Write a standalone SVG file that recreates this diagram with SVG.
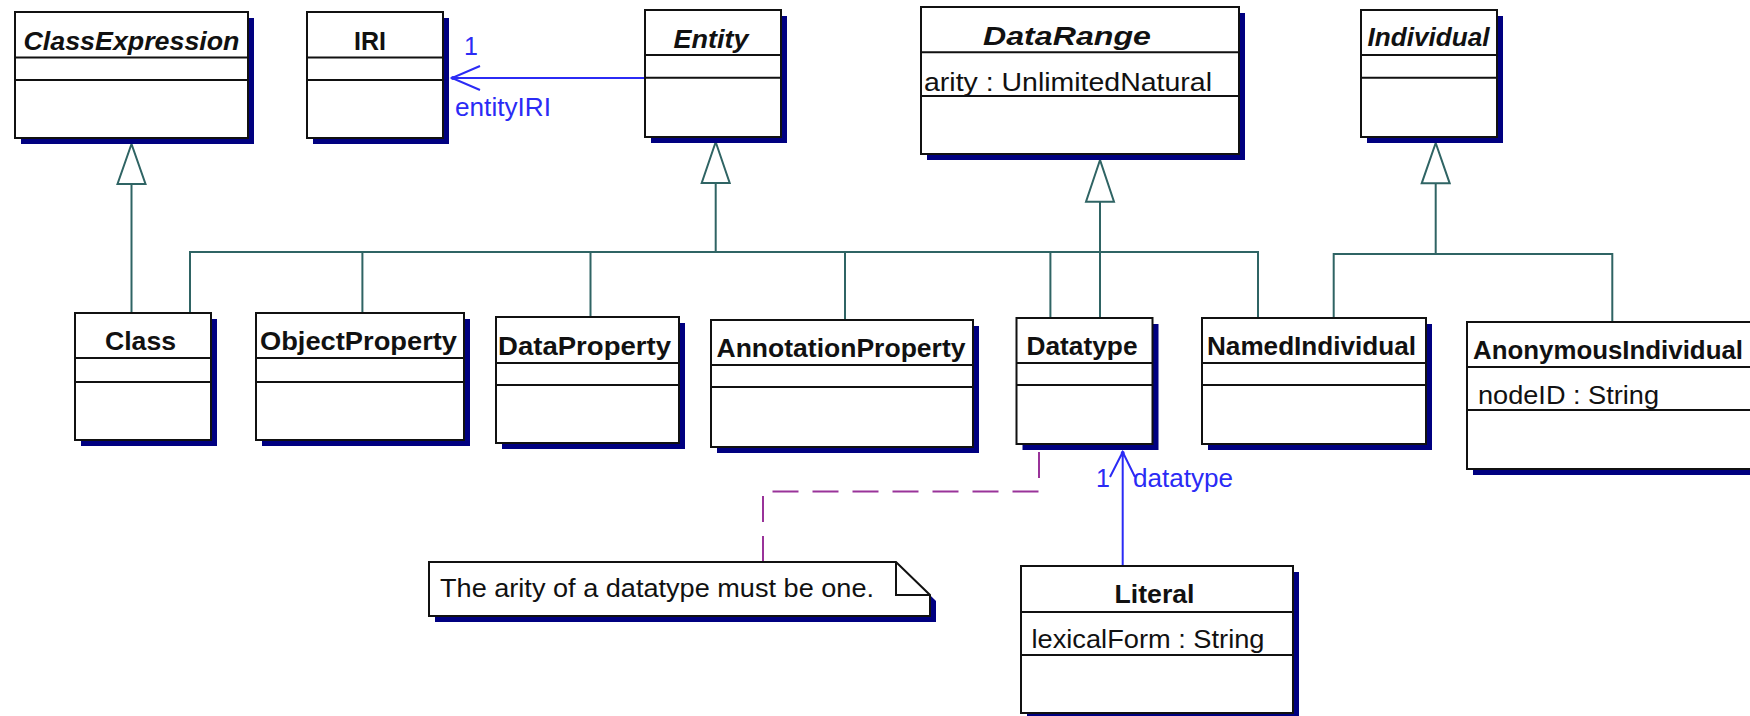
<svg xmlns="http://www.w3.org/2000/svg" width="1750" height="716" viewBox="0 0 1750 716">
<style>
.sh{fill:#000080;stroke:none}
.bx{fill:#fff;stroke:#111;stroke-width:2}
.ln{stroke:#111;stroke-width:2;fill:none}
.hd{font-family:"Liberation Sans",Arial,sans-serif;font-size:25px;font-weight:bold;fill:#111}
.ab{font-family:"Liberation Sans",Arial,sans-serif;font-size:25px;font-weight:bold;font-style:italic;fill:#111}
.at{font-family:"Liberation Sans",Arial,sans-serif;font-size:25px;fill:#111}
.lb{font-family:"Liberation Sans",Arial,sans-serif;font-size:25px;fill:#2b2bf5}
.gen{stroke:#2f6464;stroke-width:2;fill:none}
.tri{stroke:#2f6464;stroke-width:2;fill:#fff}
.asc{stroke:#2b2bf5;stroke-width:2;fill:none}
.dash{stroke:#993399;stroke-width:2;fill:none;stroke-dasharray:26 14}
</style>

<g id="connectors">
  <!-- ClassExpression generalization -->
  <line class="gen" x1="131.5" y1="184" x2="131.5" y2="313"/>
  <polygon class="tri" points="131.5,144 117.5,184 145.5,184"/>
  <!-- Entity generalization -->
  <path class="gen" d="M715.7,183 V252 M190,313 V252 H1258 V318 M362.4,252 V313 M590.5,252 V317 M845,252 V320 M1050.4,252 V318"/>
  <polygon class="tri" points="715.7,142 701.7,183 729.7,183"/>
  <!-- DataRange generalization -->
  <line class="gen" x1="1100" y1="201.7" x2="1100" y2="318"/>
  <polygon class="tri" points="1100,160 1086,201.7 1114,201.7"/>
  <!-- Individual generalization -->
  <path class="gen" d="M1435.7,183.3 V254 M1333.7,318 V254 H1612.3 V322"/>
  <polygon class="tri" points="1435.7,143 1421.7,183.3 1449.7,183.3"/>
  <!-- Entity -> IRI association -->
  <path class="asc" d="M645,78 H452 M480,66 L452,78 L480,90"/>
  <circle cx="453" cy="78" r="2" fill="#2b2bf5"/>
  <text class="lb" x="464" y="55">1</text>
  <text class="lb" x="455" y="116" textLength="96" lengthAdjust="spacingAndGlyphs">entityIRI</text>
  <!-- Literal -> Datatype association -->
  <path class="asc" d="M1122.7,566 V452 M1110,477 L1122.7,452 L1135,477"/>
  <circle cx="1122.7" cy="453" r="2" fill="#2b2bf5"/>
  <text class="lb" x="1096" y="487">1</text>
  <text class="lb" x="1133" y="487" textLength="100" lengthAdjust="spacingAndGlyphs">datatype</text>
  <!-- note anchor -->
  <path class="dash" d="M763,562 V491.5 H1039 V446"/>
</g>

<g id="ClassExpression">
  <rect class="sh" x="21" y="18" width="233" height="126"/>
  <rect class="bx" x="15" y="12" width="233" height="126"/>
  <path class="ln" d="M15,57.5 H248 M15,80 H248"/>
  <text class="ab" x="23.5" y="50" textLength="216" lengthAdjust="spacingAndGlyphs">ClassExpression</text>
</g>

<g id="IRI">
  <rect class="sh" x="313" y="18" width="136" height="126"/>
  <rect class="bx" x="307" y="12" width="136" height="126"/>
  <path class="ln" d="M307,57.5 H443 M307,80 H443"/>
  <text class="hd" x="370" y="50" text-anchor="middle">IRI</text>
</g>

<g id="Entity">
  <rect class="sh" x="651" y="16" width="136" height="127"/>
  <rect class="bx" x="645" y="10" width="136" height="127"/>
  <path class="ln" d="M645,55 H781 M645,77.7 H781"/>
  <text class="ab" x="673.5" y="47.5" textLength="75" lengthAdjust="spacingAndGlyphs">Entity</text>
</g>

<g id="DataRange">
  <rect class="sh" x="927" y="13" width="318" height="147"/>
  <rect class="bx" x="921" y="7" width="318" height="147"/>
  <path class="ln" d="M921,52.3 H1239 M921,96 H1239"/>
  <text class="ab" x="983" y="45" textLength="168" lengthAdjust="spacingAndGlyphs">DataRange</text>
  <text class="at" x="924" y="91" textLength="288" lengthAdjust="spacingAndGlyphs">arity : UnlimitedNatural</text>
</g>

<g id="Individual">
  <rect class="sh" x="1367" y="16" width="136" height="127"/>
  <rect class="bx" x="1361" y="10" width="136" height="127"/>
  <path class="ln" d="M1361,55 H1497 M1361,77.7 H1497"/>
  <text class="ab" x="1367.5" y="46" textLength="122" lengthAdjust="spacingAndGlyphs">Individual</text>
</g>

<g id="Class">
  <rect class="sh" x="81" y="319" width="136" height="127"/>
  <rect class="bx" x="75" y="313" width="136" height="127"/>
  <path class="ln" d="M75,358 H211 M75,382 H211"/>
  <text class="hd" x="105" y="349.5" textLength="71" lengthAdjust="spacingAndGlyphs">Class</text>
</g>

<g id="ObjectProperty">
  <rect class="sh" x="262" y="319" width="208" height="127"/>
  <rect class="bx" x="256" y="313" width="208" height="127"/>
  <path class="ln" d="M256,358 H464 M256,382 H464"/>
  <text class="hd" x="260" y="349.5" textLength="197" lengthAdjust="spacingAndGlyphs">ObjectProperty</text>
</g>

<g id="DataProperty">
  <rect class="sh" x="502" y="323" width="183" height="126"/>
  <rect class="bx" x="496" y="317" width="183" height="126"/>
  <path class="ln" d="M496,363 H679 M496,385 H679"/>
  <text class="hd" x="498" y="354.5" textLength="173" lengthAdjust="spacingAndGlyphs">DataProperty</text>
</g>

<g id="AnnotationProperty">
  <rect class="sh" x="717" y="326" width="262" height="127"/>
  <rect class="bx" x="711" y="320" width="262" height="127"/>
  <path class="ln" d="M711,365 H973 M711,387 H973"/>
  <text class="hd" x="716.5" y="356.5" textLength="249" lengthAdjust="spacingAndGlyphs">AnnotationProperty</text>
</g>

<g id="Datatype">
  <rect class="sh" x="1022.5" y="324" width="136" height="126"/>
  <rect class="bx" x="1016.5" y="318" width="136" height="126"/>
  <path class="ln" d="M1016.5,363 H1152.5 M1016.5,385 H1152.5"/>
  <text class="hd" x="1026.5" y="354.5" textLength="111" lengthAdjust="spacingAndGlyphs">Datatype</text>
</g>

<g id="NamedIndividual">
  <rect class="sh" x="1208" y="324" width="224" height="126"/>
  <rect class="bx" x="1202" y="318" width="224" height="126"/>
  <path class="ln" d="M1202,363 H1426 M1202,385 H1426"/>
  <text class="hd" x="1207" y="354.5" textLength="209" lengthAdjust="spacingAndGlyphs">NamedIndividual</text>
</g>

<g id="AnonymousIndividual">
  <rect class="sh" x="1473" y="328" width="290" height="147"/>
  <rect class="bx" x="1467" y="322" width="290" height="147"/>
  <path class="ln" d="M1467,367 H1757 M1467,410 H1757"/>
  <text class="hd" x="1473" y="359" textLength="270" lengthAdjust="spacingAndGlyphs">AnonymousIndividual</text>
  <text class="at" x="1478" y="404" textLength="181" lengthAdjust="spacingAndGlyphs">nodeID : String</text>
</g>

<g id="Literal">
  <rect class="sh" x="1027" y="572" width="272" height="147"/>
  <rect class="bx" x="1021" y="566" width="272" height="147"/>
  <path class="ln" d="M1021,612 H1293 M1021,655 H1293"/>
  <text class="hd" x="1114.5" y="603" textLength="80" lengthAdjust="spacingAndGlyphs">Literal</text>
  <text class="at" x="1031.5" y="648" textLength="233" lengthAdjust="spacingAndGlyphs">lexicalForm : String</text>
</g>

<g id="Note">
  <polygon class="sh" points="435,568 902,568 936,601 936,622 435,622"/>
  <polygon class="bx" points="429,562 896,562 930,595 930,616 429,616"/>
  <path class="ln" d="M896,562 V595 H930"/>
  <text class="at" x="440" y="596.5" textLength="434" lengthAdjust="spacingAndGlyphs">The arity of a datatype must be one.</text>
</g>
</svg>
